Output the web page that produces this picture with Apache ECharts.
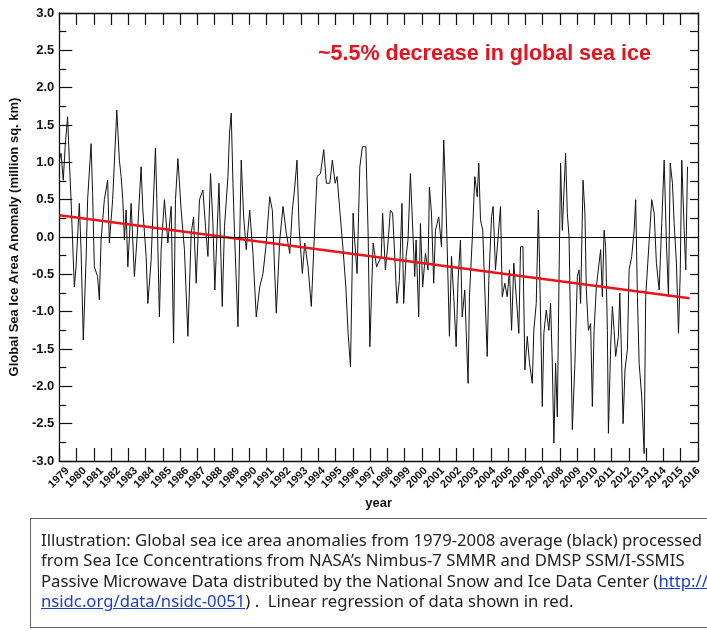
<!DOCTYPE html>
<html>
<head>
<meta charset="utf-8">
<script src="https://cdn.jsdelivr.net/npm/echarts@6.0.0/dist/echarts.min.js"></script>
<style>
html, body { margin: 0; padding: 0; background: #fff; overflow: hidden; }
#chart { position: absolute; left: 0; top: 0; width: 707px; height: 631px; }
.note {
  position: absolute; left: 30px; top: 518px; width: 800px; height: 110px;
  border: 1px solid #666; box-sizing: border-box;
  font-family: 'Noto Sans', sans-serif; font-size: 16.7px; line-height: 20.4px;
  color: #222; padding: 11px 0 0 10px; white-space: nowrap;
}
.note a { color: #1c3ccf; text-decoration: underline; }
</style>
</head>
<body>
<div id="chart"></div>
<div class="note">
Illustration: Global sea ice area anomalies from 1979-2008 average (black) processed<br>
from Sea Ice Concentrations from NASA’s Nimbus-7 SMMR and DMSP SSM/I-SSMIS<br>
Passive Microwave Data distributed by the National Snow and Ice Data Center (<a>http://</a><br>
<a>nsidc.org/data/nsidc-0051</a>) .&nbsp; Linear regression of data shown in red.
</div>
<script>
// anomaly readings (million sq. km), decimal year
var years = [
  1979.00, 1979.10, 1979.23, 1979.35, 1979.48, 1979.58, 1979.68, 1979.87, 1979.97,
  1980.16, 1980.26, 1980.39, 1980.55, 1980.64, 1980.84, 1980.93,
  1981.03, 1981.22, 1981.32, 1981.42, 1981.61, 1981.80, 1981.90,
  1982.09, 1982.33, 1982.48, 1982.58, 1982.68, 1982.77, 1982.87, 1982.97,
  1983.16, 1983.35, 1983.55, 1983.74, 1983.84,
  1984.03, 1984.13, 1984.32, 1984.57, 1984.65, 1984.80, 1984.90,
  1985.09, 1985.29, 1985.48, 1985.62, 1985.73, 1985.87,
  1986.06, 1986.25, 1986.45, 1986.64, 1986.78, 1986.93,
  1987.12, 1987.32, 1987.47, 1987.61, 1987.76, 1987.90,
  1988.01, 1988.25, 1988.44, 1988.57, 1988.77, 1988.86, 1988.96,
  1989.06, 1989.15, 1989.35, 1989.54, 1989.68, 1989.83,
  1990.03, 1990.22, 1990.41, 1990.61, 1990.80, 1990.99,
  1991.19, 1991.34, 1991.57, 1991.77, 1991.96,
  1992.15, 1992.35, 1992.50, 1992.64, 1992.77, 1992.89,
  1993.08, 1993.22, 1993.41, 1993.60, 1993.74, 1993.93,
  1994.13, 1994.32, 1994.47, 1994.67, 1994.82, 1994.98,
  1995.09, 1995.25, 1995.44, 1995.60, 1995.73, 1995.87,
  1996.02, 1996.12, 1996.25, 1996.41, 1996.56, 1996.76, 1996.89, 1996.99,
  1997.18, 1997.38, 1997.65, 1997.73, 1997.89,
  1998.04, 1998.18, 1998.31, 1998.47, 1998.56, 1998.70, 1998.85, 1998.95,
  1999.09, 1999.20, 1999.34, 1999.43, 1999.59, 1999.67, 1999.82, 1999.92,
  2000.05, 2000.21, 2000.36, 2000.44, 2000.56, 2000.69, 2000.79, 2000.98,
  2001.14, 2001.27, 2001.37, 2001.47, 2001.60, 2001.72, 2001.85, 2001.99,
  2002.10, 2002.24, 2002.34, 2002.49, 2002.57, 2002.68, 2002.76, 2002.92,
  2003.07, 2003.21, 2003.30, 2003.40, 2003.53, 2003.65, 2003.79, 2003.88,
  2004.04, 2004.13, 2004.27, 2004.42, 2004.56, 2004.66, 2004.81, 2004.95,
  2005.08, 2005.20, 2005.33, 2005.43, 2005.53, 2005.62, 2005.72, 2005.86, 2005.97,
  2006.11, 2006.24, 2006.40, 2006.49, 2006.63, 2006.75, 2006.82, 2006.98,
  2007.07, 2007.21, 2007.36, 2007.46, 2007.56, 2007.65, 2007.75, 2007.85, 2007.94,
  2008.04, 2008.14, 2008.24, 2008.33, 2008.43, 2008.53, 2008.62, 2008.72, 2008.87,
  2009.01, 2009.11, 2009.20, 2009.34, 2009.45, 2009.53, 2009.65, 2009.78, 2009.88, 2009.98,
  2010.11, 2010.27, 2010.36, 2010.46, 2010.56, 2010.65, 2010.75, 2010.81, 2010.94,
  2011.04, 2011.14, 2011.23, 2011.39, 2011.47, 2011.58, 2011.66, 2011.77, 2011.91,
  2012.01, 2012.16, 2012.30, 2012.39, 2012.49, 2012.59, 2012.74, 2012.88, 2012.97,
  2013.09, 2013.21, 2013.32, 2013.46, 2013.59, 2013.75, 2013.90,
  2014.04, 2014.17, 2014.29, 2014.39, 2014.52, 2014.62, 2014.75, 2014.87, 2014.97,
  2015.06, 2015.20, 2015.29, 2015.39
];
var anomaly = [
  1.03, 1.12, 0.76, 1.25, 1.61, 1.03, 0.50, -0.67, -0.40,
  0.45, -0.17, -1.38, -0.31, 0.50, 1.25, 0.58,
  -0.40, -0.53, -0.84, -0.04, 0.50, 0.76, -0.08,
  0.50, 1.70, 1.03, 0.81, 0.50, -0.04, 0.36, -0.40,
  0.45, -0.53, 0.14, 0.94, 0.36,
  -0.26, -0.89, -0.31, 1.19, 0.50, -1.07, -0.17,
  0.50, -0.08, 0.41, -1.42, 0.50, 1.05,
  0.36, -0.17, -1.33, 0.05, 0.27, -0.62,
  0.50, 0.63, 0.14, -0.26, 0.85, 0.18,
  -0.71, 0.72, -0.93, 0.14, 0.81, 1.39, 1.66,
  0.72, 0.05, -1.20, 1.03, 0.27, -0.17,
  0.36, -0.22, -1.07, -0.67, -0.49, -0.08,
  0.54, 0.36, -1.02, -0.04, 0.41,
  0.05, -0.22, 0.36, 0.67, 1.03, 0.14,
  -0.49, -0.08, -0.40, -0.93, -0.17, 0.81,
  0.85, 1.17, 0.72, 0.72, 1.03, 0.72,
  0.81, 0.36, -0.17, -0.67, -1.29, -1.74,
  0.32, -0.08, -0.49, 0.94, 1.21, 1.21, 0.05, -1.47,
  -0.08, -0.40, -0.26, 0.32, -0.44,
  -0.08, 0.36, 0.32, -0.44, -0.89, -0.58, 0.45, -0.89,
  -0.26, -0.04, 0.85, 0.36, -0.53, -0.04, -1.07, 0.18,
  -0.67, -0.22, -0.44, 0.67, 0.32, -0.62, 0.09, 0.27,
  -0.13, 1.30, 0.63, -0.13, -1.33, -0.26, -0.80, -1.47,
  -0.58, -0.04, -1.07, -0.71, -1.25, -1.96, -0.80, -0.04,
  0.81, 0.54, 0.99, 0.23, 0.09, -0.71, -1.60, -0.58,
  0.27, 0.41, -0.44, 0.00, 0.41, -0.80, -0.62, -0.80,
  -0.44, -1.25, -0.35, -0.67, -0.98, -1.29, -0.13, -0.13, -1.78,
  -1.33, -1.69, -1.96, -1.25, -0.89, 0.36, -0.35, -2.27,
  -1.29, -0.98, -1.25, -0.89, -1.69, -2.76, -1.69, -2.41, -0.71,
  0.99, 0.09, 0.63, 1.12, 0.32, 0.00, -1.25, -2.58, -1.69,
  -0.53, -0.44, -0.89, 0.76, 0.32, -0.71, -1.25, -1.16, -2.27, -1.25,
  -0.67, -0.35, -0.17, -0.80, 0.09, -0.13, -1.25, -2.63, -1.47,
  -0.93, -1.25, -1.60, -1.33, -0.75, -1.69, -2.50, -1.78, -1.51,
  -0.44, -0.26, 0.09, 0.50, -0.80, -1.69, -2.14, -2.90, -0.80,
  -0.35, 0.09, 0.50, 0.32, -0.35, -0.71, 0.18,
  1.03, -0.08, -0.80, 0.99, 0.72, 0.18, -0.35, -1.29, -0.49,
  1.03, 0.09, -0.44, 0.94
];
// linear regression end points
var trendYears = [1979, 2015.5];
var trendValues = [0.29, -0.82];
var yearLabels = ['1979', '1980', '1981', '1982', '1983', '1984', '1985', '1986', '1987',
  '1988', '1989', '1990', '1991', '1992', '1993', '1994', '1995', '1996', '1997', '1998',
  '1999', '2000', '2001', '2002', '2003', '2004', '2005', '2006', '2007', '2008', '2009',
  '2010', '2011', '2012', '2013', '2014', '2015', '2016'];

var font = "'Liberation Sans', Arial, sans-serif";
var chart = echarts.init(document.getElementById('chart'));

var line = { show: true, onZero: false, lineStyle: { color: '#111', width: 1.3 } };

var option = {
  animation: false,
  title: {
    text: '~5.5% decrease in global sea ice',
    left: 313, top: 38,
    textStyle: { color: '#e3131f', fontSize: 21.5, fontWeight: 'bold', fontFamily: font }
  },
  grid: [
    { left: 59, right: 9, top: 13, bottom: 170 },
    // label grid: one slot per year, so labels sit at mid-year
    { left: 59, right: -8.24, top: 13, bottom: 170 }
  ],
  xAxis: [
    {
      type: 'value', gridIndex: 0, min: 1979, max: 2016, interval: 1, position: 'bottom',
      axisLine: line,
      axisTick: { inside: true, length: 13, lineStyle: { color: '#111', width: 1.2 } },
      axisLabel: { show: false },
      splitLine: { show: false },
      name: 'year', nameLocation: 'middle', nameGap: 36,
      nameTextStyle: { fontSize: 13, fontWeight: 'bold', color: '#111', fontFamily: font }
    },
    {
      type: 'value', gridIndex: 0, min: 1979, max: 2016, interval: 1, position: 'top',
      axisLine: line,
      axisTick: { inside: true, length: 12, lineStyle: { color: '#111', width: 1.2 } },
      axisLabel: { show: false },
      splitLine: { show: false }
    },
    {
      type: 'category', gridIndex: 1, data: yearLabels, position: 'bottom',
      axisLine: { show: false, onZero: false },
      axisTick: { show: false },
      axisLabel: {
        interval: 0, rotate: 45, margin: 8,
        fontSize: 11, fontWeight: 'bold', color: '#111', fontFamily: font
      }
    }
  ],
  yAxis: [
    {
      type: 'value', gridIndex: 0, min: -3, max: 3, interval: 0.5,
      axisLine: line,
      axisTick: { inside: true, length: 13, lineStyle: { color: '#111', width: 1.2 } },
      minorTick: { show: true, splitNumber: 2, length: 7, lineStyle: { color: '#111', width: 1.2 } },
      axisLabel: {
        margin: 5, fontSize: 13, fontWeight: 'bold', color: '#111', fontFamily: font,
        formatter: function (v) { return v.toFixed(1); }
      },
      splitLine: { show: false },
      name: 'Global Sea Ice Area Anomaly (million sq. km)',
      nameLocation: 'middle', nameGap: 36,
      nameTextStyle: { fontSize: 13, fontWeight: 'bold', color: '#111', fontFamily: font }
    },
    {
      type: 'value', gridIndex: 0, min: -3, max: 3, interval: 0.5, position: 'right',
      axisLine: line,
      axisTick: { inside: true, length: 8, lineStyle: { color: '#111', width: 1.2 } },
      minorTick: { show: true, splitNumber: 2, length: 8, lineStyle: { color: '#111', width: 1.2 } },
      axisLabel: { show: false },
      splitLine: { show: false }
    },
    { type: 'value', gridIndex: 1, show: false }
  ],
  series: [
    {
      name: 'anomaly', type: 'line', xAxisIndex: 0, yAxisIndex: 0,
      data: years.map(function (y, i) { return [y, anomaly[i]]; }),
      symbol: 'none',
      lineStyle: { color: '#111', width: 1 },
      markLine: {
        silent: true, symbol: 'none', label: { show: false },
        lineStyle: { color: '#000', width: 1, type: 'solid' },
        data: [{ yAxis: 0 }]
      }
    },
    {
      name: 'trend', type: 'line', xAxisIndex: 0, yAxisIndex: 0,
      data: trendYears.map(function (y, i) { return [y, trendValues[i]]; }),
      symbol: 'none',
      lineStyle: { color: '#e8161c', width: 2.5 }
    }
  ]
};

chart.setOption(option);
window.addEventListener('resize', function () { chart.resize(); });
</script>
</body>
</html>
